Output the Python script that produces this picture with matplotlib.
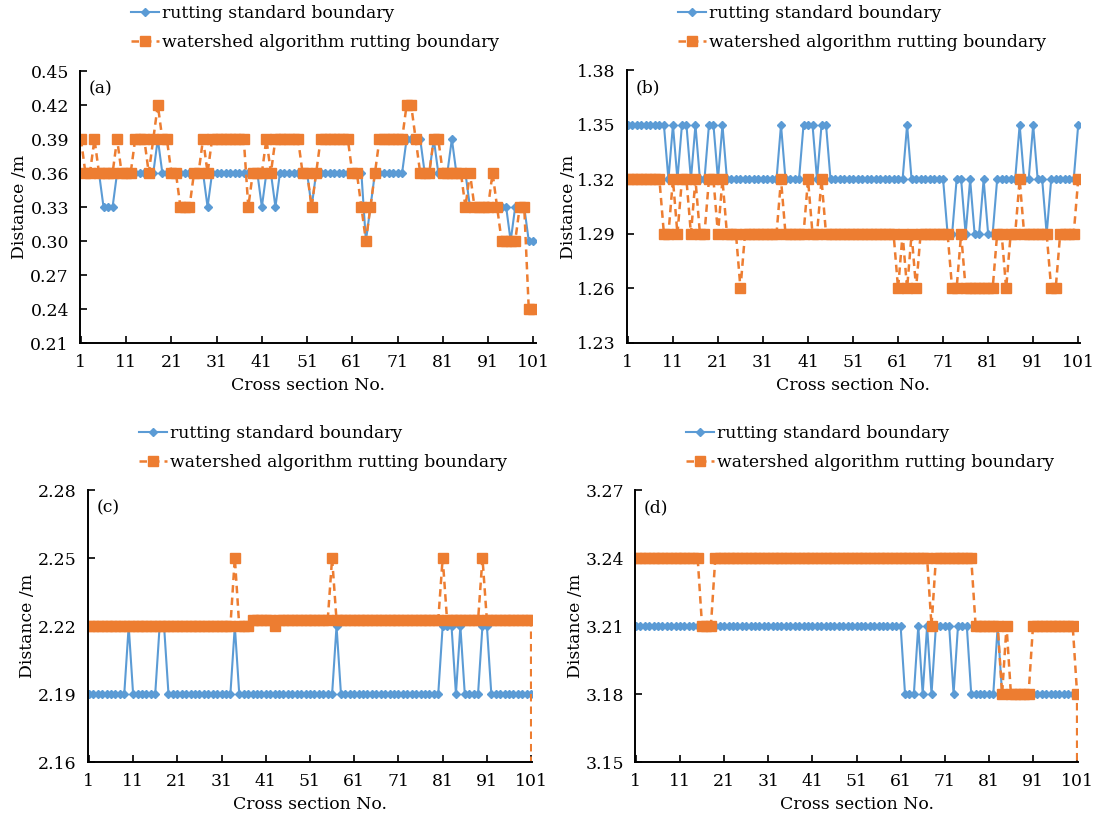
import matplotlib

matplotlib.use("Agg")
import matplotlib.pyplot as plt
import numpy as np

plt.rcParams["font.family"] = ["DejaVu Serif"]

FIG_W, FIG_H = 1093, 814
BLUE = "#5B9BD5"
ORANGE = "#ED7D31"
LABEL_STD = "rutting standard boundary"
LABEL_WATER = "watershed algorithm rutting boundary"

# (a) distances, m, cross sections 1..101
std_a = [
    0.36, 0.36, 0.36, 0.36, 0.36, 0.33, 0.33, 0.33, 0.36, 0.36,
    0.36, 0.36, 0.36, 0.36, 0.36, 0.36, 0.36, 0.39, 0.36, 0.36,
    0.36, 0.36, 0.36, 0.36, 0.36, 0.36, 0.36, 0.36, 0.33, 0.36,
    0.36, 0.36, 0.36, 0.36, 0.36, 0.36, 0.36, 0.36, 0.36, 0.36,
    0.33, 0.36, 0.36, 0.33, 0.36, 0.36, 0.36, 0.36, 0.36, 0.36,
    0.36, 0.33, 0.36, 0.36, 0.36, 0.36, 0.36, 0.36, 0.36, 0.36,
    0.36, 0.36, 0.36, 0.30, 0.33, 0.36, 0.36, 0.36, 0.36, 0.36,
    0.36, 0.36, 0.39, 0.39, 0.39, 0.39, 0.36, 0.36, 0.39, 0.36,
    0.36, 0.36, 0.39, 0.36, 0.36, 0.36, 0.33, 0.33, 0.33, 0.33,
    0.33, 0.33, 0.33, 0.33, 0.33, 0.30, 0.33, 0.33, 0.33, 0.30,
    0.30,
]
water_a = [
    0.39, 0.36, 0.36, 0.39, 0.36, 0.36, 0.36, 0.36, 0.39, 0.36,
    0.36, 0.36, 0.39, 0.39, 0.39, 0.36, 0.39, 0.42, 0.39, 0.39,
    0.36, 0.36, 0.33, 0.33, 0.33, 0.36, 0.36, 0.39, 0.36, 0.39,
    0.39, 0.39, 0.39, 0.39, 0.39, 0.39, 0.39, 0.33, 0.36, 0.36,
    0.36, 0.39, 0.36, 0.39, 0.39, 0.39, 0.39, 0.39, 0.39, 0.36,
    0.36, 0.33, 0.36, 0.39, 0.39, 0.39, 0.39, 0.39, 0.39, 0.39,
    0.36, 0.36, 0.33, 0.30, 0.33, 0.36, 0.39, 0.39, 0.39, 0.39,
    0.39, 0.39, 0.42, 0.42, 0.39, 0.36, 0.36, 0.36, 0.39, 0.39,
    0.36, 0.36, 0.36, 0.36, 0.36, 0.33, 0.36, 0.33, 0.33, 0.33,
    0.33, 0.36, 0.33, 0.30, 0.30, 0.30, 0.30, 0.33, 0.33, 0.24,
    0.24,
]

# (b)
std_b = [
    1.35, 1.35, 1.35, 1.35, 1.35, 1.35, 1.35, 1.35, 1.35, 1.32,
    1.35, 1.32, 1.35, 1.35, 1.32, 1.35, 1.32, 1.32, 1.35, 1.35,
    1.32, 1.35, 1.32, 1.32, 1.32, 1.32, 1.32, 1.32, 1.32, 1.32,
    1.32, 1.32, 1.32, 1.32, 1.35, 1.32, 1.32, 1.32, 1.32, 1.35,
    1.35, 1.35, 1.32, 1.35, 1.35, 1.32, 1.32, 1.32, 1.32, 1.32,
    1.32, 1.32, 1.32, 1.32, 1.32, 1.32, 1.32, 1.32, 1.32, 1.32,
    1.32, 1.32, 1.35, 1.32, 1.32, 1.32, 1.32, 1.32, 1.32, 1.32,
    1.32, 1.29, 1.29, 1.32, 1.32, 1.29, 1.32, 1.29, 1.29, 1.32,
    1.29, 1.29, 1.32, 1.32, 1.32, 1.32, 1.32, 1.35, 1.32, 1.32,
    1.35, 1.32, 1.32, 1.29, 1.32, 1.32, 1.32, 1.32, 1.32, 1.32,
    1.35,
]
water_b = [
    1.32, 1.32, 1.32, 1.32, 1.32, 1.32, 1.32, 1.32, 1.29, 1.29,
    1.32, 1.29, 1.32, 1.32, 1.29, 1.32, 1.29, 1.29, 1.32, 1.32,
    1.29, 1.32, 1.29, 1.29, 1.29, 1.26, 1.29, 1.29, 1.29, 1.29,
    1.29, 1.29, 1.29, 1.29, 1.32, 1.29, 1.29, 1.29, 1.29, 1.29,
    1.32, 1.29, 1.29, 1.32, 1.29, 1.29, 1.29, 1.29, 1.29, 1.29,
    1.29, 1.29, 1.29, 1.29, 1.29, 1.29, 1.29, 1.29, 1.29, 1.29,
    1.26, 1.29, 1.26, 1.29, 1.26, 1.29, 1.29, 1.29, 1.29, 1.29,
    1.29, 1.29, 1.26, 1.26, 1.29, 1.26, 1.26, 1.26, 1.26, 1.26,
    1.26, 1.26, 1.29, 1.29, 1.26, 1.29, 1.29, 1.32, 1.29, 1.29,
    1.29, 1.29, 1.29, 1.29, 1.26, 1.26, 1.29, 1.29, 1.29, 1.29,
    1.32,
]

# (c)
std_c = [
    2.19, 2.19, 2.19, 2.19, 2.19, 2.19, 2.19, 2.19, 2.19, 2.22,
    2.19, 2.19, 2.19, 2.19, 2.19, 2.19, 2.22, 2.22, 2.19, 2.19,
    2.19, 2.19, 2.19, 2.19, 2.19, 2.19, 2.19, 2.19, 2.19, 2.19,
    2.19, 2.19, 2.19, 2.22, 2.19, 2.19, 2.19, 2.19, 2.19, 2.19,
    2.19, 2.19, 2.19, 2.19, 2.19, 2.19, 2.19, 2.19, 2.19, 2.19,
    2.19, 2.19, 2.19, 2.19, 2.19, 2.19, 2.22, 2.19, 2.19, 2.19,
    2.19, 2.19, 2.19, 2.19, 2.19, 2.19, 2.19, 2.19, 2.19, 2.19,
    2.19, 2.19, 2.19, 2.19, 2.19, 2.19, 2.19, 2.19, 2.19, 2.19,
    2.22, 2.22, 2.22, 2.19, 2.22, 2.19, 2.19, 2.19, 2.19, 2.22,
    2.22, 2.19, 2.19, 2.19, 2.19, 2.19, 2.19, 2.19, 2.19, 2.19,
    2.19,
]
# last entry: the series falls away to 0 after section 101
water_c = [
    2.22, 2.22, 2.22, 2.22, 2.22, 2.22, 2.22, 2.22, 2.22, 2.22,
    2.22, 2.22, 2.22, 2.22, 2.22, 2.22, 2.22, 2.22, 2.22, 2.22,
    2.22, 2.22, 2.22, 2.22, 2.22, 2.22, 2.22, 2.22, 2.22, 2.22,
    2.22, 2.22, 2.22, 2.25, 2.22, 2.22, 2.22, 2.2225, 2.2225, 2.2225,
    2.2225, 2.2225, 2.22, 2.2225, 2.2225, 2.2225, 2.2225, 2.2225, 2.2225, 2.2225,
    2.2225, 2.2225, 2.2225, 2.2225, 2.2225, 2.25, 2.2225, 2.2225, 2.2225, 2.2225,
    2.2225, 2.2225, 2.2225, 2.2225, 2.2225, 2.2225, 2.2225, 2.2225, 2.2225, 2.2225,
    2.2225, 2.2225, 2.2225, 2.2225, 2.2225, 2.2225, 2.2225, 2.2225, 2.2225, 2.2225,
    2.25, 2.2225, 2.2225, 2.2225, 2.2225, 2.2225, 2.2225, 2.2225, 2.2225, 2.25,
    2.2225, 2.2225, 2.2225, 2.2225, 2.2225, 2.2225, 2.2225, 2.2225, 2.2225, 2.2225,
    2.2225, 0.0,
]

# (d)
std_d = [
    3.21, 3.21, 3.21, 3.21, 3.21, 3.21, 3.21, 3.21, 3.21, 3.21,
    3.21, 3.21, 3.21, 3.21, 3.21, 3.21, 3.21, 3.21, 3.21, 3.21,
    3.21, 3.21, 3.21, 3.21, 3.21, 3.21, 3.21, 3.21, 3.21, 3.21,
    3.21, 3.21, 3.21, 3.21, 3.21, 3.21, 3.21, 3.21, 3.21, 3.21,
    3.21, 3.21, 3.21, 3.21, 3.21, 3.21, 3.21, 3.21, 3.21, 3.21,
    3.21, 3.21, 3.21, 3.21, 3.21, 3.21, 3.21, 3.21, 3.21, 3.21,
    3.21, 3.18, 3.18, 3.18, 3.21, 3.18, 3.21, 3.18, 3.21, 3.21,
    3.21, 3.21, 3.18, 3.21, 3.21, 3.21, 3.18, 3.18, 3.18, 3.18,
    3.18, 3.18, 3.21, 3.18, 3.18, 3.18, 3.18, 3.18, 3.18, 3.18,
    3.18, 3.18, 3.18, 3.18, 3.18, 3.18, 3.18, 3.18, 3.18, 3.18,
    3.18,
]
water_d = [
    3.24, 3.24, 3.24, 3.24, 3.24, 3.24, 3.24, 3.24, 3.24, 3.24,
    3.24, 3.24, 3.24, 3.24, 3.24, 3.21, 3.21, 3.21, 3.24, 3.24,
    3.24, 3.24, 3.24, 3.24, 3.24, 3.24, 3.24, 3.24, 3.24, 3.24,
    3.24, 3.24, 3.24, 3.24, 3.24, 3.24, 3.24, 3.24, 3.24, 3.24,
    3.24, 3.24, 3.24, 3.24, 3.24, 3.24, 3.24, 3.24, 3.24, 3.24,
    3.24, 3.24, 3.24, 3.24, 3.24, 3.24, 3.24, 3.24, 3.24, 3.24,
    3.24, 3.24, 3.24, 3.24, 3.24, 3.24, 3.24, 3.21, 3.24, 3.24,
    3.24, 3.24, 3.24, 3.24, 3.24, 3.24, 3.24, 3.21, 3.21, 3.21,
    3.21, 3.21, 3.21, 3.18, 3.21, 3.18, 3.18, 3.18, 3.18, 3.18,
    3.21, 3.21, 3.21, 3.21, 3.21, 3.21, 3.21, 3.21, 3.21, 3.21,
    3.18, 0.0,
]

x_ticks = [1, 11, 21, 31, 41, 51, 61, 71, 81, 91, 101]
FS = 12.4


def px_box(left, right, top, bottom):
    return [left / FIG_W, 1 - bottom / FIG_H, (right - left) / FIG_W, (bottom - top) / FIG_H]


def draw_panel(fig, box, tag, std, water, ylim, xlim, ylabel_x, legend_y):
    left, right, top, bottom = box
    width, height = right - left, bottom - top
    ax = fig.add_axes(px_box(*box))

    ax.plot(np.arange(1, len(std) + 1), std, color=BLUE, lw=1.5,
            marker="D", ms=3.8, label=LABEL_STD)
    ax.plot(np.arange(1, len(water) + 1), water, color=ORANGE, lw=1.8,
            ls=(0, (3, 2)), marker="s", ms=6.5, label=LABEL_WATER)

    ax.set_xlim(*xlim)
    ax.set_ylim(*ylim)
    ax.set_xticks(x_ticks)
    ax.set_yticks(np.arange(ylim[0], ylim[1] + 0.001, 0.03))
    ax.yaxis.set_major_formatter(plt.FormatStrFormatter("%.2f"))
    for side in ("top", "right"):
        ax.spines[side].set_visible(False)
    for side in ("left", "bottom"):
        ax.spines[side].set_linewidth(1.4)
    ax.tick_params(direction="in", length=5, width=1.2, labelsize=FS)
    ax.tick_params(axis="x", pad=8)
    ax.tick_params(axis="y", pad=8)

    ax.set_xlabel("Cross section No.", fontsize=FS)
    ax.xaxis.set_label_coords(0.5, -34 / height)
    ax.set_ylabel("Distance /m", fontsize=FS)
    ax.yaxis.set_label_coords((ylabel_x - left) / width, 0.5)

    ax.text(0.02, 0.935, tag, transform=ax.transAxes, fontsize=FS, va="center")

    ax.legend(loc="center left",
              bbox_to_anchor=((left + 51) / FIG_W, 1 - legend_y / FIG_H),
              bbox_transform=fig.transFigure, frameon=False, fontsize=FS,
              borderpad=0, borderaxespad=0, handlelength=1.6,
              handletextpad=0.2, labelspacing=0.75, numpoints=1)
    return ax


fig = plt.figure(figsize=(FIG_W / 100, FIG_H / 100), dpi=100)
draw_panel(fig, (80, 536, 71, 343), "(a)", std_a, water_a, (0.21, 0.45), (0.8, 101.6), 28, 28)
draw_panel(fig, (627, 1080, 70.5, 343), "(b)", std_b, water_b, (1.23, 1.38), (0.8, 101.4), 577, 28)
draw_panel(fig, (88, 532, 490, 762), "(c)", std_c, water_c, (2.16, 2.28), (0.8, 101.2), 36, 448)
draw_panel(fig, (635, 1078, 490, 762), "(d)", std_d, water_d, (3.15, 3.27), (0.8, 101.2), 584, 448)

fig.savefig("out.png", dpi=100)
